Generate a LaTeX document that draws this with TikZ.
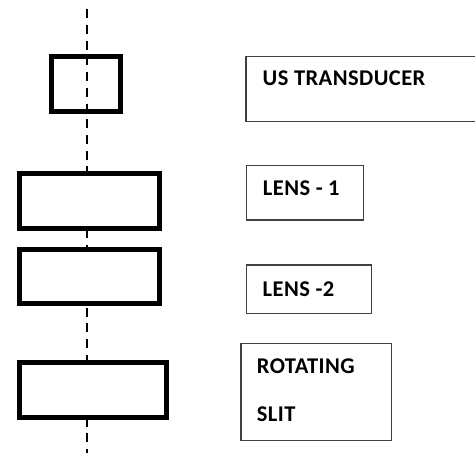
\documentclass[tikz,border=0pt]{standalone}
\usepackage{fontspec}
\setmainfont{Carlito}
\newfontfamily\tagfont[LetterSpace=2]{Carlito}
\begin{document}
\begin{tikzpicture}[x=1pt,y=-1pt,
  part/.style={draw=black, line width=5pt, inner sep=0pt, outer sep=0pt},
  lens/.style={part, fill=white},
  tagbox/.style={draw=black!75, line width=1.2pt, inner sep=0pt, outer sep=0pt},
  tag/.style={font=\tagfont\bfseries\fontsize{22.5}{26}\selectfont, anchor=base west, inner sep=0pt}]
\useasboundingbox (0,0) rectangle (475,453);
% optical axis
\coordinate (axtop) at (86.7,9.3);
\coordinate (axbot) at (86.7,456);
\draw[line width=2.2pt, dash pattern=on 9pt off 6.7pt] (axtop) -- (axbot);
% components on the axis
\node[part, minimum width=68.4pt, minimum height=55pt] (trans) at (86,84) {};
\node[lens, minimum width=140pt, minimum height=55pt] (lens1) at (89.8,201) {};
\node[lens, minimum width=140pt, minimum height=54pt] (lens2) at (89.8,276.2) {};
\node[lens, minimum width=147pt, minimum height=55pt] (slit) at (93.3,390) {};
% label boxes
\node[tagbox, minimum width=230pt, minimum height=65pt] (transbox) at (361,88.8) {};
\node[tagbox, minimum width=116.6pt, minimum height=54.3pt] (lens1box) at (305,192.9) {};
\node[tagbox, minimum width=125pt, minimum height=48.3pt] (lens2box) at (309.2,289.2) {};
\node[tagbox, minimum width=150.7pt, minimum height=97.4pt] (slitbox) at (316.3,392) {};
% label texts
\node[tag] (transtxt) at (262.5,85) {US TRANSDUCER};
\node[tag] (lens1txt) at (262.7,195.3) {LENS - 1};
\node[tag] (lens2txt) at (262.5,296.7) {LENS -2};
\node[tag] (slittxt1) at (256.7,373.3) {ROTATING};
\node[tag] (slittxt2) at (256.7,421.7) {SLIT};
\end{tikzpicture}
\end{document}
